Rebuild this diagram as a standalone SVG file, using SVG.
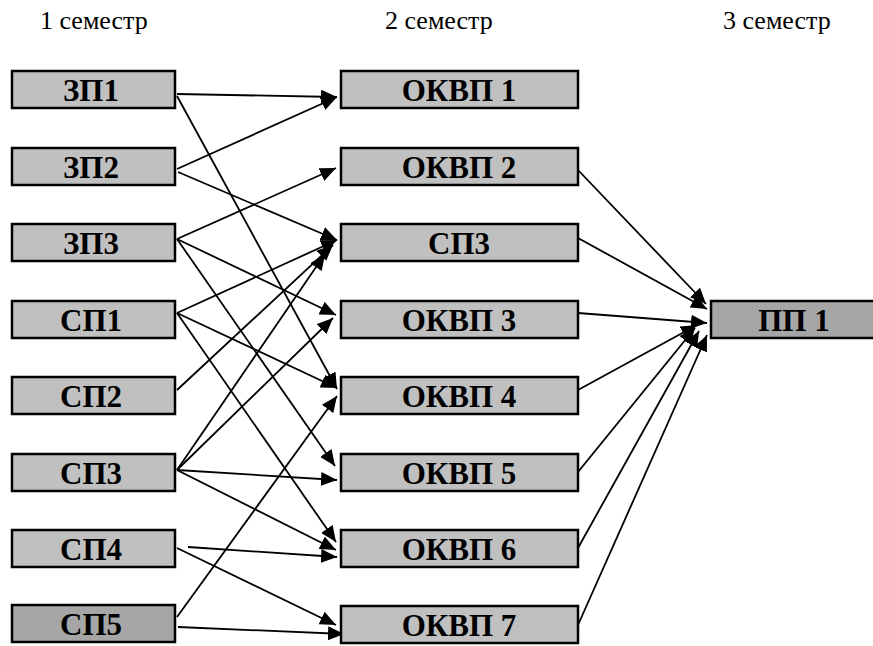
<svg xmlns="http://www.w3.org/2000/svg" width="873" height="646" viewBox="0 0 873 646">
<style>
.box{fill:#c0c0c0;stroke:#000;stroke-width:2.5}
.dark{fill:#a6a6a6}
.lbl{font-family:'Liberation Serif','Times New Roman',serif;font-weight:700;font-size:31px;text-anchor:middle;fill:#000}
.hdr{font-family:'Liberation Serif','Times New Roman',serif;font-size:26px;fill:#000}
.c line{stroke:#000;stroke-width:1.8;marker-end:url(#ah)}
</style>
<defs>
<marker id="ah" markerUnits="userSpaceOnUse" markerWidth="17" markerHeight="14" refX="16" refY="7" orient="auto">
<path d="M0,0 L16,7 L0,14 z" fill="#000"/>
</marker>
</defs>
<text class="hdr" x="40" y="29">1 семестр</text>
<text class="hdr" x="385" y="29">2 семестр</text>
<text class="hdr" x="723" y="29">3 семестр</text>
<g class="c" id="connectors">
<line x1="177" y1="94" x2="337" y2="97"/>
<line x1="177" y1="96" x2="337" y2="389"/>
<line x1="177" y1="169" x2="337" y2="97"/>
<line x1="178" y1="172" x2="337" y2="240"/>
<line x1="177" y1="239" x2="336" y2="168"/>
<line x1="177" y1="239" x2="336" y2="315"/>
<line x1="177" y1="239" x2="335" y2="466"/>
<line x1="177" y1="313" x2="337" y2="240"/>
<line x1="177" y1="313" x2="337" y2="388"/>
<line x1="177" y1="313" x2="336" y2="542"/>
<line x1="177" y1="390" x2="333" y2="245"/>
<line x1="177" y1="470" x2="325" y2="254"/>
<line x1="177" y1="470" x2="333" y2="318"/>
<line x1="177" y1="470" x2="337" y2="480"/>
<line x1="177" y1="470" x2="336" y2="550"/>
<line x1="188" y1="547" x2="337" y2="557"/>
<line x1="177" y1="548" x2="336" y2="625"/>
<line x1="177" y1="617" x2="337" y2="396"/>
<line x1="178" y1="627" x2="344" y2="634"/>
<line x1="578" y1="170" x2="706" y2="304"/>
<line x1="578" y1="238" x2="707" y2="309"/>
<line x1="578" y1="313" x2="707" y2="323"/>
<line x1="578" y1="390" x2="697" y2="325"/>
<line x1="578" y1="472" x2="695" y2="328"/>
<line x1="578" y1="548" x2="699" y2="331"/>
<line x1="578" y1="625" x2="707" y2="335"/>
</g>
<g id="zp1"><rect class="box" x="12" y="71" width="163" height="37"/><text class="lbl" x="91" y="101">ЗП1</text></g>
<g id="zp2"><rect class="box" x="12" y="148" width="163" height="37"/><text class="lbl" x="91" y="178">ЗП2</text></g>
<g id="zp3"><rect class="box" x="12" y="224" width="163" height="37"/><text class="lbl" x="91" y="254">ЗП3</text></g>
<g id="sp1"><rect class="box" x="12" y="301" width="163" height="37"/><text class="lbl" x="91" y="331">СП1</text></g>
<g id="sp2"><rect class="box" x="12" y="377" width="163" height="37"/><text class="lbl" x="91" y="407">СП2</text></g>
<g id="sp3"><rect class="box" x="12" y="454" width="163" height="37"/><text class="lbl" x="91" y="484">СП3</text></g>
<g id="sp4"><rect class="box" x="12" y="530" width="163" height="37"/><text class="lbl" x="91" y="560">СП4</text></g>
<g id="sp5"><rect class="box dark" x="12" y="605" width="163" height="37"/><text class="lbl" x="91" y="635">СП5</text></g>
<g id="okvp1"><rect class="box" x="341" y="71" width="237" height="37"/><text class="lbl" x="459" y="101">ОКВП 1</text></g>
<g id="okvp2"><rect class="box" x="341" y="148" width="237" height="37"/><text class="lbl" x="459" y="178">ОКВП 2</text></g>
<g id="sp3b"><rect class="box" x="341" y="224" width="237" height="37"/><text class="lbl" x="459" y="254">СП3</text></g>
<g id="okvp3"><rect class="box" x="341" y="301" width="237" height="37"/><text class="lbl" x="459" y="331">ОКВП 3</text></g>
<g id="okvp4"><rect class="box" x="341" y="377" width="237" height="37"/><text class="lbl" x="459" y="407">ОКВП 4</text></g>
<g id="okvp5"><rect class="box" x="341" y="454" width="237" height="37"/><text class="lbl" x="459" y="484">ОКВП 5</text></g>
<g id="okvp6"><rect class="box" x="341" y="530" width="237" height="37"/><text class="lbl" x="459" y="560">ОКВП 6</text></g>
<g id="okvp7"><rect class="box" x="341" y="606" width="237" height="37"/><text class="lbl" x="459" y="636">ОКВП 7</text></g>
<g id="pp1"><rect class="box dark" x="711" y="301" width="170" height="37"/><text class="lbl" x="794" y="331">ПП 1</text></g>
</svg>
